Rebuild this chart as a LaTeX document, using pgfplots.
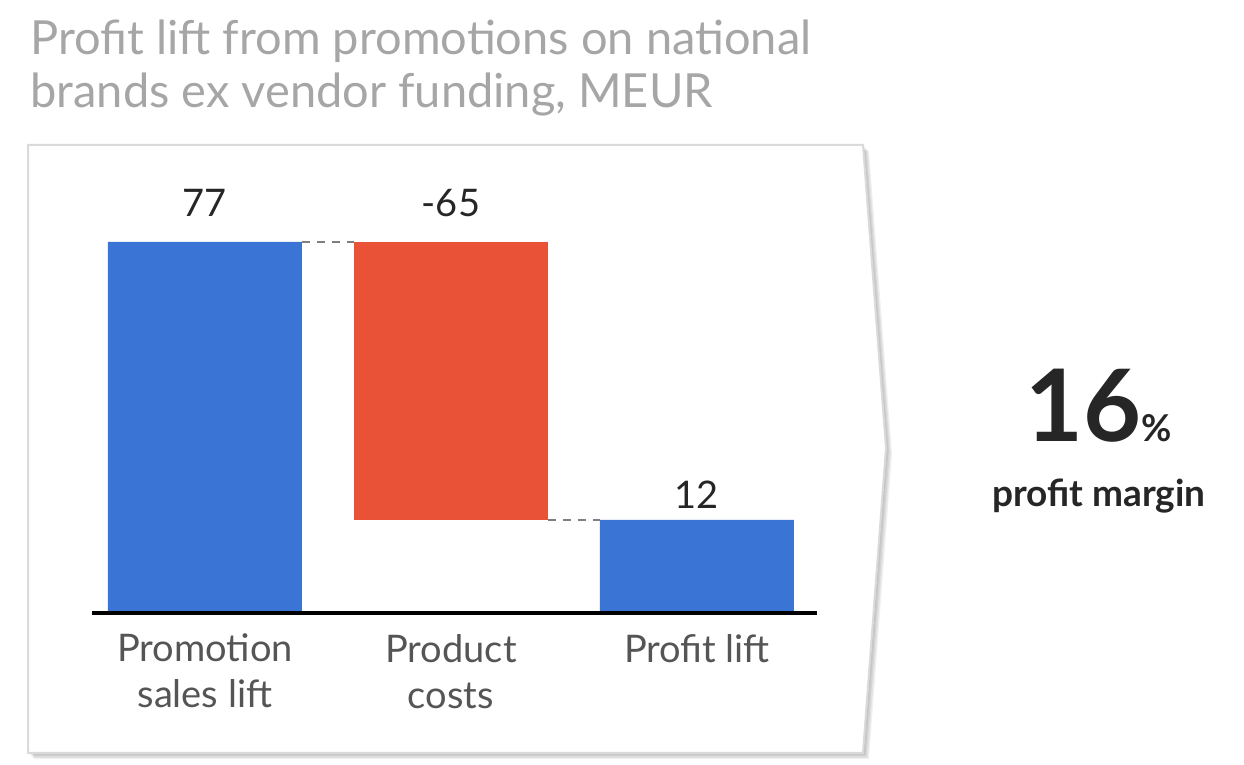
\documentclass[border=0pt]{standalone}
\usepackage{pgfplots}
\pgfplotsset{compat=1.18}
\usepackage{fontspec}
\setmainfont{Lato}
\definecolor{liftblue}{RGB}{58,117,214}
\definecolor{costred}{RGB}{233,82,54}
\definecolor{titlegray}{RGB}{166,166,166}
\definecolor{tickgray}{RGB}{85,85,85}
\definecolor{darktext}{RGB}{38,38,38}
\definecolor{dashgray}{RGB}{128,128,128}
\definecolor{boxline}{RGB}{218,218,218}

% bar tops as drawn (the chart is not to scale) and the value labels
\pgfplotstableread{
x top lab gap
0 77   77  12.5
1 77   -65 12.5
2 19.3 12  5.5
}\labels

\begin{document}
\begin{tikzpicture}[x=1pt,y=1pt]
\path[use as bounding box] (0,0) rectangle (622,382.5);

% title
\node[anchor=base west, inner sep=0, text=titlegray, font=\fontsize{23.5}{28}\selectfont]
  at (15,355) {Profit lift from promotions on national};
\node[anchor=base west, inner sep=0, text=titlegray, font=\fontsize{23.5}{28}\selectfont]
  at (15,328.5) {brands ex vendor funding, MEUR};

% arrow-shaped panel with soft shadow
\foreach \s in {0.6,1.2,1.8,2.4,3.0}{
  \fill[black,opacity=0.06,shift={(\s,-\s)}]
    (14,310) -- (431.5,310) -- (443,158.5) -- (431.5,6) -- (14,6) -- cycle;
}
\filldraw[fill=white,draw=boxline,line width=1pt]
  (14,310) -- (431.5,310) -- (443,158.5) -- (431.5,6) -- (14,6) -- cycle;

\begin{axis}[
  at={(46pt,76pt)}, anchor=south west,
  scale only axis, width=362.5pt, height=192.75pt,
  xmin=-0.459, xmax=2.488, ymin=0, ymax=80,
  clip=false, axis on top,
  axis x line=bottom, axis y line=none,
  x axis line style={-, black, line width=1.75pt},
  xtick={0,1,2}, major tick length=0pt,
  xticklabels={{Promotion\\sales lift},{Product\\costs},{Profit lift}},
  xticklabel style={align=center, text=tickgray,
    font=\fontsize{19}{23}\selectfont, yshift=-7pt},
  ybar, bar width=97pt, bar shift=0pt,
]
% promotion sales lift and profit lift
\addplot[draw=none, fill=liftblue] coordinates {(0,77) (2,19.3)};
% product costs: floating bar from 19.3 up to 77
\addplot[draw=none, fill=costred] coordinates {(1,77)};
\addplot[draw=none, fill=white] coordinates {(1,19.3)};
% value labels above the bars
\addplot[draw=none, fill=none,
  nodes near coords, point meta=explicit symbolic,
  visualization depends on={\thisrow{gap} \as \labgap},
  every node near coord/.append style={text=darktext, inner sep=0pt,
    font=\fontsize{19}{23}\selectfont, anchor=south, yshift=\labgap pt}]
  table[x=x, y=top, meta=lab] {\labels};

\draw[dashgray, line width=1.4pt, dash pattern=on 4pt off 3.5pt]
  (axis cs:0.394,77) -- (axis cs:0.606,77);
\draw[dashgray, line width=1.4pt, dash pattern=on 4pt off 3.5pt]
  (axis cs:1.394,19.3) -- (axis cs:1.606,19.3);
\end{axis}

% side note
\node[anchor=base, inner sep=0, text=darktext, font=\bfseries\fontsize{50}{56}\selectfont]
  at (549.5,161.5) {16{\fontsize{18.5}{20}\selectfont\%}};
\node[anchor=base, inner sep=0, text=darktext, font=\bfseries\fontsize{18.5}{22}\selectfont]
  at (549.5,129) {profit margin};
\end{tikzpicture}
\end{document}
